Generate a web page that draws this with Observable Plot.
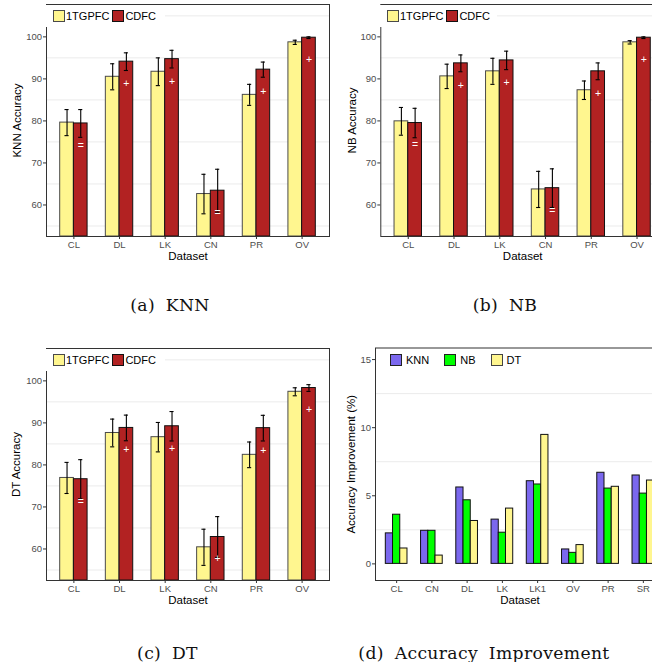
<!DOCTYPE html>
<html><head><meta charset="utf-8">
<script src="https://cdn.jsdelivr.net/npm/d3@7"></script>
<script src="https://cdn.jsdelivr.net/npm/@observablehq/plot@0.6"></script>
<style>
html,body{margin:0;padding:0;background:#fff;overflow:hidden;}
#root{position:relative;width:652px;height:662px;overflow:hidden;background:#fff;font-family:"Liberation Sans",Arial,sans-serif;}
.panel{position:absolute;}
.panel svg{overflow:visible;display:block;max-width:none !important;}
.panel svg [aria-label$="tick label"]{fill:#4D4D4D;}
.panel svg [aria-label$="axis label"]{fill:#000;font-size:11.5px;}
.panel svg [aria-label$="axis tick"]{stroke:#333;}
.legend{position:absolute;display:flex;align-items:center;font-size:11px;color:#000;height:22px;}
.legend.bg{background:#fff;}
.key{box-sizing:border-box;display:inline-block;width:12px;height:12px;border:1px solid #333;}
.lab{margin-left:1.5px;}
.cap{position:absolute;font-family:"DejaVu Serif",serif;font-size:17.2px;transform:translate(-50%,-50%);white-space:nowrap;letter-spacing:0.35px;word-spacing:5px;color:#111;}
</style>
</head><body><div id="root"></div>
<script>
// ---------- data ----------
const datasets = ["CL", "DL", "LK", "CN", "PR", "OV"];
const seriesNames = ["1TGPFC", "CDFC"];
const seriesColors = ["#FFF68F", "#B22222"];
const seriesStrokes = ["#4A4A4A", "#111111"];

const knnBase    = [79.6, 90.5, 91.7, 62.6, 86.2, 98.7];
const knnBaseErr = [3.1, 3.1, 3.3, 4.7, 2.5, 0.5];
const knnCdfc    = [79.4, 94.1, 94.7, 63.4, 92.2, 99.8];
const knnCdfcErr = [3.3, 2.1, 2.1, 5.1, 1.8, 0.2];
const knnSig     = ["=", "+", "+", "=", "+", "+"];

const nbBase    = [79.9, 90.6, 91.8, 63.7, 87.3, 98.7];
const nbBaseErr = [3.3, 2.9, 3.1, 4.3, 2.2, 0.4];
const nbCdfc    = [79.5, 93.7, 94.4, 64.0, 91.8, 99.8];
const nbCdfcErr = [3.5, 2.0, 2.2, 4.6, 2.0, 0.2];
const nbSig     = ["=", "+", "+", "=", "+", "+"];

const dtBase    = [76.9, 87.6, 86.6, 60.4, 82.4, 97.4];
const dtBaseErr = [3.7, 3.3, 3.5, 4.3, 3.05, 0.95];
const dtCdfc    = [76.6, 88.8, 89.2, 62.85, 88.75, 98.3];
const dtCdfcErr = [4.65, 3.05, 3.5, 4.85, 3.05, 0.8];
const dtSig     = ["=", "+", "+", "+", "+", "+"];

const accTicks = [60, 70, 80, 90, 100];
const accMinor = [55, 65, 75, 85, 95, 105];
const accDomain = [52.5, 107.7];

const impDatasets = ["CL", "CN", "DL", "LK", "LK1", "OV", "PR", "SR"];
const impNames = ["KNN", "NB", "DT"];
const impColors = ["#7B68EE", "#00FF00", "#FFF68F"];
const impKNN = [2.24, 2.43, 5.61, 3.25, 6.07, 1.06, 6.69, 6.49];
const impNB  = [3.61, 2.43, 4.67, 2.29, 5.83, 0.81, 5.53, 5.16];
const impDT  = [1.13, 0.61, 3.15, 4.06, 9.47, 1.38, 5.66, 6.12];
const impTicks = [0, 5, 10, 15];
const impMinor = [2.5, 7.5, 12.5];
const impDomain = [-1.22, 15.85];

const captions = ["(a) KNN", "(b) NB", "(c) DT", "(d) Accuracy Improvement"];

// ---------- drawing ----------
const root = document.getElementById("root");
const FONT = "'Liberation Sans', Arial, Helvetica, sans-serif";

function place(el, left, top, width) {
  const d = document.createElement("div");
  d.className = "panel";
  d.style.left = left + "px";
  d.style.top = top + "px";
  d.style.width = width + "px";
  d.appendChild(el);
  root.appendChild(d);
  return d;
}

function accPanel(o) {
  const rows = [];
  datasets.forEach((c, i) => {
    rows.push({i, s: 0, v: o.base[i], e: o.baseErr[i]});
    rows.push({i, s: 1, v: o.cdfc[i], e: o.cdfcErr[i]});
  });
  const W = 0.3, cap = 0.045;
  const xa = d => d.i + (d.s - 1) * W;
  const xb = d => d.i + d.s * W;
  const xc = d => d.i + (d.s - 0.5) * W;
  const barMarks = [0, 1].map(s =>
    Plot.rectY(rows.filter(d => d.s === s), {
      x1: xa, x2: xb, y1: accDomain[0], y2: "v",
      fill: d => seriesNames[d.s], stroke: seriesStrokes[s], strokeWidth: 1
    }));
  return Plot.plot({
    width: o.width, height: 265,
    marginLeft: o.marginLeft, marginRight: 4, marginTop: o.marginTop, marginBottom: 29,
    style: {fontFamily: FONT, fontSize: "9.5px", color: "#333", background: "transparent"},
    x: {domain: [-0.6, datasets.length - 0.4], ticks: d3.range(datasets.length),
        tickFormat: i => datasets[i], tickSize: 3, tickPadding: 1.5,
        label: "Dataset", labelAnchor: "center", labelOffset: 23, labelArrow: "none"},
    y: {domain: accDomain, ticks: accTicks, tickSize: 3, tickPadding: 1.5,
        label: o.ylabel, labelAnchor: "center", labelOffset: o.labelOffset, labelArrow: "none"},
    color: {domain: seriesNames, range: seriesColors},
    marks: [
      Plot.ruleY(accMinor, {stroke: "#EBEBEB", strokeWidth: 1}),
      ...barMarks,
      Plot.ruleX(rows, {x: xc, y1: d => d.v - d.e, y2: d => d.v + d.e, stroke: "#000", strokeWidth: 1.1}),
      Plot.ruleY(rows, {y: d => d.v + d.e, x1: d => xc(d) - cap, x2: d => xc(d) + cap, stroke: "#000", strokeWidth: 1.1}),
      Plot.ruleY(rows, {y: d => d.v - d.e, x1: d => xc(d) - cap, x2: d => xc(d) + cap, stroke: "#000", strokeWidth: 1.1}),
      Plot.text(rows.filter(d => d.s === 1), {x: xc, y: "v", text: d => o.sig[d.i],
        fill: "#fff", fontSize: 10.5, dy: 22, lineAnchor: "middle"}),
      Plot.frame({stroke: "#333", strokeWidth: 1})
    ]
  });
}

function impPanel() {
  const series = [impKNN, impNB, impDT];
  const rows = [];
  impDatasets.forEach((c, i) => series.forEach((arr, s) => rows.push({i, s, v: arr[i]})));
  const W = 0.205;
  return Plot.plot({
    width: 342, height: 265,
    marginLeft: 49, marginRight: 4, marginTop: 3.5, marginBottom: 29,
    style: {fontFamily: FONT, fontSize: "9.5px", color: "#333", background: "transparent"},
    x: {domain: [-0.6, impDatasets.length - 0.4], ticks: d3.range(impDatasets.length),
        tickFormat: i => impDatasets[i], tickSize: 3, tickPadding: 1.5,
        label: "Dataset", labelAnchor: "center", labelOffset: 23, labelArrow: "none"},
    y: {domain: impDomain, ticks: impTicks, tickSize: 3, tickPadding: 1.5,
        label: "Accuracy Improvement (%)", labelAnchor: "center", labelOffset: 29, labelArrow: "none"},
    color: {domain: impNames, range: impColors},
    marks: [
      Plot.ruleY(impMinor, {stroke: "#EBEBEB", strokeWidth: 1}),
      Plot.rectY(rows, {x1: d => d.i + (d.s - 1.5) * W, x2: d => d.i + (d.s - 0.5) * W,
        y1: 0, y2: "v", fill: d => impNames[d.s], stroke: "#111", strokeWidth: 1}),
      Plot.frame({stroke: "#333", strokeWidth: 1})
    ]
  });
}

function legend(names, colors, strokes, left, top, gap, bg) {
  const d = document.createElement("div");
  d.className = "legend" + (bg ? " bg" : "");
  d.style.left = left + "px";
  d.style.top = top + "px";
  names.forEach((n, k) => {
    const key = document.createElement("span");
    key.className = "key";
    key.style.background = colors[k];
    key.style.borderColor = strokes[k];
    if (k > 0) key.style.marginLeft = gap + "px";
    const t = document.createElement("span");
    t.className = "lab";
    t.textContent = n;
    d.appendChild(key); d.appendChild(t);
  });
  root.appendChild(d);
  return d;
}

place(accPanel({base: knnBase, baseErr: knnBaseErr, cdfc: knnCdfc, cdfcErr: knnCdfcErr, sig: knnSig,
  ylabel: "KNN Accuracy", width: 333, marginLeft: 46, marginTop: 4, labelOffset: 34}), 0, 0, 333);
place(accPanel({base: nbBase, baseErr: nbBaseErr, cdfc: nbCdfc, cdfcErr: nbCdfcErr, sig: nbSig,
  ylabel: "NB Accuracy", width: 342, marginLeft: 54.3, marginTop: 4, labelOffset: 33}), 326, 0, 342);
place(accPanel({base: dtBase, baseErr: dtBaseErr, cdfc: dtCdfc, cdfcErr: dtCdfcErr, sig: dtSig,
  ylabel: "DT Accuracy", width: 333, marginLeft: 46, marginTop: 4, labelOffset: 35}), 0, 344, 333);
place(impPanel(), 326, 344, 342);

const l1 = legend(seriesNames, seriesColors, seriesStrokes, 45, 5, 2.5, true);
l1.style.paddingLeft = "7.5px"; l1.style.width = "112px";
const l2 = legend(seriesNames, seriesColors, seriesStrokes, 379, 5, 2.5, true);
l2.style.paddingLeft = "7.5px"; l2.style.width = "110px";
const l3 = legend(seriesNames, seriesColors, seriesStrokes, 45, 349, 2.5, true);
l3.style.paddingLeft = "7.5px"; l3.style.width = "112px";
const l4 = legend(impNames, impColors, ["#222", "#222", "#444"], 390, 349, 15, false);
l4.querySelectorAll(".lab").forEach(e => e.style.marginLeft = "4px");

const capPos = [[170, 305], [505, 305], [167.5, 653], [484, 653]];
captions.forEach((c, k) => {
  const d = document.createElement("div");
  d.className = "cap";
  d.style.left = capPos[k][0] + "px";
  d.style.top = capPos[k][1] + "px";
  d.textContent = c;
  root.appendChild(d);
});
</script>
</body></html>
